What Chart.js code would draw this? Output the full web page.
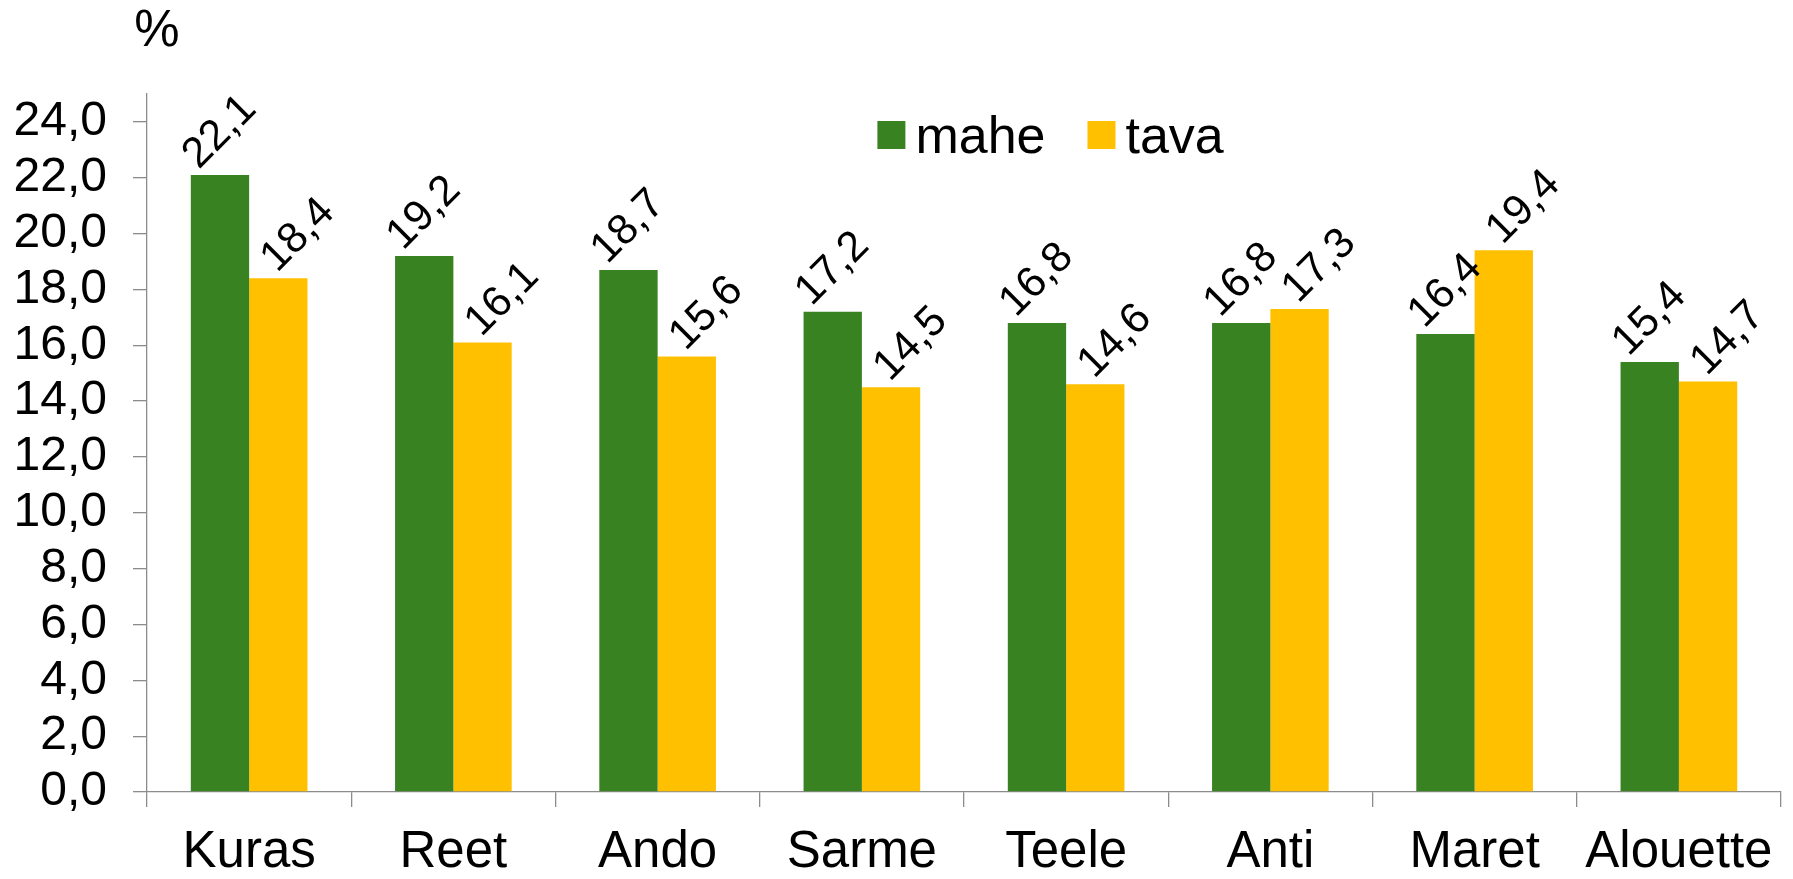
<!DOCTYPE html>
<html>
<head>
<meta charset="utf-8">
<style>
  html, body { margin: 0; padding: 0; background: #ffffff; }
  #wrap { width: 1793px; height: 879px; }
</style>
<script src="https://cdn.jsdelivr.net/npm/chart.js@4.4.1/dist/chart.umd.min.js"></script>
</head>
<body>
<div id="wrap"><canvas id="c" width="1793" height="879"></canvas></div>
<script>
// ---- data ----
const categories = ['Kuras', 'Reet', 'Ando', 'Sarme', 'Teele', 'Anti', 'Maret', 'Alouette'];
const seriesNames = ['mahe', 'tava'];
const maheValues = [22.1, 19.2, 18.7, 17.2, 16.8, 16.8, 16.4, 15.4];
const tavaValues = [18.4, 16.1, 15.6, 14.5, 14.6, 17.3, 19.4, 14.7];
const yTickValues = [0, 2, 4, 6, 8, 10, 12, 14, 16, 18, 20, 22, 24];
const yMax = 25;
const unitLabel = '%';

// ---- styles ----
const FONT = '"Liberation Sans", Arial, Helvetica, sans-serif';
const GREEN = '#388222';
const YELLOW = '#FFC000';
const AXIS = '#8c8c8c';
const fmt = v => v.toFixed(1).replace('.', ',');

const labelShift = [0, 20]; // horizontal nudge of value labels per series

const valueLabels = {
  id: 'valueLabels',
  afterDatasetsDraw(chart) {
    const ctx = chart.ctx;
    ctx.save();
    ctx.font = '43px ' + FONT;
    ctx.fillStyle = '#000';
    ctx.textAlign = 'center';
    ctx.textBaseline = 'middle';
    chart.data.datasets.forEach((ds, di) => {
      const meta = chart.getDatasetMeta(di);
      meta.data.forEach((el, i) => {
        ctx.save();
        ctx.translate(el.x + labelShift[di], el.y - 43);
        ctx.rotate(-Math.PI / 4);
        ctx.fillText(fmt(ds.data[i]), 0, 0);
        ctx.restore();
      });
    });
    ctx.restore();
  }
};

const legendAndUnit = {
  id: 'legendAndUnit',
  afterDraw(chart) {
    const ctx = chart.ctx;
    const ca = chart.chartArea;
    ctx.save();
    // unit label
    ctx.font = '51px ' + FONT;
    ctx.fillStyle = '#000';
    ctx.textAlign = 'center';
    ctx.textBaseline = 'alphabetic';
    ctx.fillText(unitLabel, ca.left + 10, 46);
    // legend
    ctx.font = '52px ' + FONT;
    ctx.textAlign = 'left';
    let x = ca.left + ca.width * 0.447;
    const boxTop = 121, box = 28;
    chart.data.datasets.forEach((ds) => {
      ctx.fillStyle = ds.backgroundColor;
      ctx.fillRect(x, boxTop, box, box);
      x += box + 10;
      ctx.fillStyle = '#000';
      ctx.fillText(ds.label, x, 153);
      x += ctx.measureText(ds.label).width + 42;
    });
    ctx.restore();
  }
};

new Chart(document.getElementById('c'), {
  type: 'bar',
  data: {
    labels: categories,
    datasets: [
      { label: seriesNames[0], data: maheValues, backgroundColor: GREEN, borderWidth: 0 },
      { label: seriesNames[1], data: tavaValues, backgroundColor: YELLOW, borderWidth: 0 }
    ]
  },
  options: {
    responsive: false,
    animation: false,
    devicePixelRatio: 1,
    categoryPercentage: 0.571,
    barPercentage: 1.0,
    layout: { padding: { top: 94, right: 12, left: 0, bottom: 0 } },
    plugins: {
      legend: { display: false },
      tooltip: { enabled: false },
      title: { display: false }
    },
    scales: {
      x: {
        grid: { display: true, drawOnChartArea: false, drawTicks: true, tickLength: 15, color: AXIS, lineWidth: 1.3, offset: true },
        border: { display: true, color: AXIS, width: 1.3 },
        ticks: { color: '#000', font: { family: FONT, size: 51 }, padding: 15, maxRotation: 0, autoSkip: false },
        afterFit(scale) { scale.height = 87; }
      },
      y: {
        min: 0,
        max: yMax,
        grid: { display: true, drawOnChartArea: false, drawTicks: true, tickLength: 14, color: AXIS, lineWidth: 1.3 },
        border: { display: true, color: AXIS, width: 1.3 },
        ticks: { color: '#000', font: { family: FONT, size: 48 }, padding: 26, autoSkip: false, callback: v => fmt(v) },
        afterBuildTicks(scale) { scale.ticks = yTickValues.map(v => ({ value: v })); },
        afterFit(scale) { scale.width = 147; }
      }
    }
  },
  plugins: [valueLabels, legendAndUnit]
});
</script>
</body>
</html>
